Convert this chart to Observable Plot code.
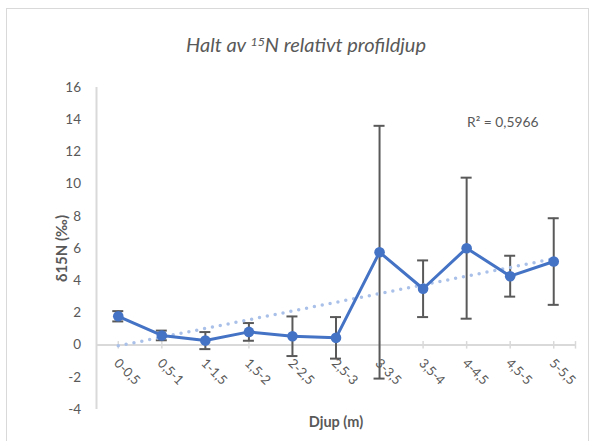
<!DOCTYPE html>
<html>
<head>
<meta charset="utf-8">
<script src="https://cdn.jsdelivr.net/npm/d3@7"></script>
<script src="https://cdn.jsdelivr.net/npm/@observablehq/plot@0.6"></script>
<style>
  html, body { margin: 0; padding: 0; background: #fff; }
  #wrap { position: relative; width: 595px; height: 441px; overflow: hidden; font-family: Lato, "Open Sans", sans-serif; }
  #border { position: absolute; left: 6px; top: 8px; width: 583px; height: 440px; border: 1.5px solid #d9d9d9; box-sizing: border-box; }
  #title { position: absolute; left: 0; top: 32px; width: 612px; text-align: center; font-style: italic; font-size: 20px; line-height: 20px; color: #595959; }
  #title .sup { font-size: 0.62em; vertical-align: 0.5em; }
  #chart { position: absolute; left: 0; top: 0; }
</style>
</head>
<body>
<div id="wrap">
  <div id="border"></div>
  <div id="chart"></div>
  <div id="title">Halt av <span class="sup">15</span>N relativt profildjup</div>
</div>
<script>
const categories = ["0-0,5", "0,5-1", "1-1,5", "1,5-2", "2-2,5", "2,5-3", "3-3,5", "3,5-4", "4-4,5", "4,5-5", "5-5,5"];
const means  = [1.79, 0.60, 0.28, 0.82, 0.55, 0.45, 5.77, 3.50, 6.02, 4.28, 5.19];
const errors = [0.32, 0.30, 0.53, 0.55, 1.23, 1.29, 7.85, 1.76, 4.38, 1.27, 2.69];
const yTicks = [-4, -2, 0, 2, 4, 6, 8, 10, 12, 14, 16];
const yTitle = "δ15N (‰)";
const xTitle = "Djup (m)";
const r2Label = "R² = 0,5966";

const rows = categories.map((c, i) => ({ i: i + 1, cat: c, mean: means[i], err: errors[i] }));
const xDomain = [0.5, categories.length + 0.5];
const yDomain = [yTicks[0], yTicks[yTicks.length - 1]];
const xMid = (xDomain[0] + xDomain[1]) / 2;
const yMid = (yDomain[0] + yDomain[1]) / 2;
const tickPos = rows.map(d => d.i).concat([xDomain[1]]);

const gray = "#595959";
const axisGray = "#d9d9d9";
const blue = "#4472c4";
const trend = "#a9c0e8";

const chart = Plot.plot({
  width: 595,
  height: 441,
  marginLeft: 96,
  marginRight: 20,
  marginTop: 87,
  marginBottom: 32,
  style: { fontFamily: "Lato, 'Open Sans', sans-serif", background: "transparent", color: gray },
  x: { domain: xDomain, axis: null },
  y: { domain: yDomain },
  marks: [
    Plot.axisY({ ticks: yTicks, tickSize: 0, tickPadding: 15.5, tickFormat: d => String(d), fontSize: 13.5, fill: gray, label: null }),
    Plot.ruleX([xDomain[0]], { stroke: axisGray, strokeWidth: 2 }),
    Plot.ruleY([0], { stroke: axisGray, strokeWidth: 2 }),
    Plot.ruleX(tickPos, { y1: 0, y2: 0, insetTop: -3.5, insetBottom: -4, stroke: axisGray, strokeWidth: 1.5 }),
    Plot.text(rows, { x: "i", y: () => 0, text: "cat", rotate: 45, textAnchor: "start", dx: -2, dy: 16, fontSize: 13, fill: gray }),
    Plot.text([yTitle], { x: () => xDomain[0], y: () => yMid, text: d => d, rotate: -90, textAnchor: "middle", lineAnchor: "middle", dx: -34, fontSize: 15, fontWeight: "bold", fill: gray }),
    Plot.text([xTitle], { x: () => xMid, y: () => yDomain[0], text: d => d, textAnchor: "middle", lineAnchor: "middle", dy: 12.5, fontSize: 14.5, fontWeight: "bold", fill: gray }),
    Plot.text([r2Label], { frameAnchor: "top-right", text: d => d, textAnchor: "end", dx: -37, dy: 29.5, fontSize: 13.8, fill: gray }),
    Plot.ruleX(rows, { x: "i", y1: d => d.mean - d.err, y2: d => d.mean + d.err, stroke: gray, strokeWidth: 2 }),
    Plot.ruleY(rows, { y: d => d.mean - d.err, x1: "i", x2: "i", insetLeft: -5.5, insetRight: -5.5, stroke: gray, strokeWidth: 2 }),
    Plot.ruleY(rows, { y: d => d.mean + d.err, x1: "i", x2: "i", insetLeft: -5.5, insetRight: -5.5, stroke: gray, strokeWidth: 2 }),
    Plot.linearRegressionY(rows, { x: "i", y: "mean", ci: 0, stroke: trend, strokeWidth: 3.5, strokeDasharray: "0,8", strokeLinecap: "round" }),
    Plot.line(rows, { x: "i", y: "mean", stroke: blue, strokeWidth: 3 }),
    Plot.dot(rows, { x: "i", y: "mean", r: 5.3, fill: blue, stroke: "none" })
  ]
});
document.getElementById("chart").appendChild(chart);
</script>
</body>
</html>
